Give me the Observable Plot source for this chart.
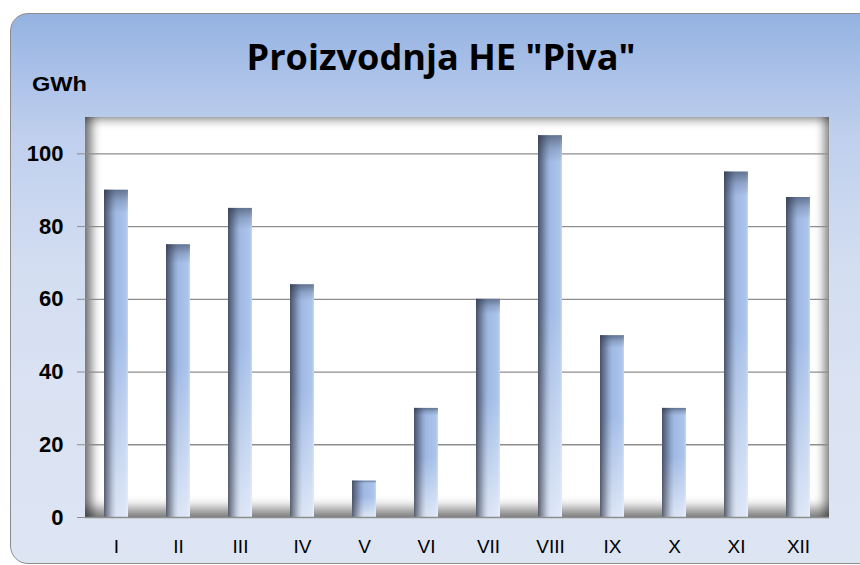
<!DOCTYPE html>
<html>
<head>
<meta charset="utf-8">
<script src="https://cdn.jsdelivr.net/npm/d3@7"></script>
<script src="https://cdn.jsdelivr.net/npm/@observablehq/plot@0.6"></script>
<style>
  body { margin: 0; background: #fff; }
  #wrap { position: relative; width: 860px; height: 565px; overflow: hidden; }
  #box {
    position: absolute; left: 10px; top: 13px; width: 890px; height: 549px;
    border: 1.5px solid #8c8c8c; border-radius: 18px;
    background: linear-gradient(to bottom, #94b2e1 0%, #a9c0e8 10%, #bfcfed 22%, #d2ddf1 45%, #dbe3f3 70%, #dde5f3 100%);
  }
  #plotbg {
    position: absolute; left: 85px; top: 117px; width: 744px; height: 400px; background: #fff;
    box-shadow: inset 13px 0 10px -6px rgba(0,0,0,.5), inset -11px 0 10px -6px rgba(0,0,0,.45),
                inset 0 10px 9px -6px rgba(0,0,0,.35), inset 0 -15px 12px -6px rgba(0,0,0,.48);
  }
  #chart { position: absolute; left: 0; top: 0; }
  #titles { position: absolute; left: 0; top: 0; }
</style>
</head>
<body>
<div id="wrap">
  <div id="box"></div>
  <div id="plotbg"></div>
  <svg id="titles" width="860" height="565">
    <text x="441" y="70" text-anchor="middle" font-family="'Open Sans', sans-serif" font-weight="700" font-size="35" textLength="389" lengthAdjust="spacingAndGlyphs">Proizvodnja HE "Piva"</text>
    <text x="32" y="91" font-family="'Liberation Sans', Arial, sans-serif" font-weight="700" font-size="20" textLength="55" lengthAdjust="spacingAndGlyphs">GWh</text>
  </svg>
  <div id="chart"></div>
</div>
<script>
const months = ["I", "II", "III", "IV", "V", "VI", "VII", "VIII", "IX", "X", "XI", "XII"];
const values = [90, 75, 85, 64, 10, 30, 60, 105, 50, 30, 95, 88];
const yTicks = [0, 20, 40, 60, 80, 100];

const data = months.map((m, i) => ({month: m, value: values[i]}));

const plot = Plot.plot({
  width: 860,
  height: 565,
  marginLeft: 85,
  marginRight: 31,
  marginTop: 117,
  marginBottom: 48,
  style: {background: "transparent", fontFamily: "'Liberation Sans', Arial, sans-serif", overflow: "visible"},
  x: {domain: months, paddingInner: 0.613, paddingOuter: 0.306, label: null},
  y: {domain: [0, 110], ticks: yTicks, label: null},
  marks: [
    Plot.ruleY(yTicks.filter(t => t > 0), {stroke: "#8e8e8e", strokeWidth: 1.3}),
    Plot.barY(data, {x: "month", y: "value", fill: "url(#gBase)"}),
    Plot.barY(data, {x: "month", y: "value", fill: "url(#gFade)"}),
    Plot.barY(data, {x: "month", y: "value", fill: "url(#gLeft)"}),
    Plot.barY(data, {x: "month", y: "value", fill: "url(#gTop)"}),
    Plot.ruleY([0], {stroke: "#8e8e8e", strokeWidth: 1.3}),
    Plot.axisY({ticks: yTicks, tickSize: 8, tickPadding: 14, fontSize: 22, fontWeight: "bold", stroke: "#8e8e8e", fill: "#000", label: null}),
    Plot.axisX({tickSize: 0, tickPadding: 22, fontSize: 19, fill: "#000", label: null})
  ]
});

d3.select(plot).insert("defs", ":first-child").html(`
  <linearGradient id="gBase" x1="0" x2="1" y1="0" y2="0">
    <stop offset="0" stop-color="#8aa2cc"/>
    <stop offset="0.45" stop-color="#9fb8e2"/>
    <stop offset="0.9" stop-color="#abc4ec"/>
    <stop offset="1" stop-color="#c6d6f2"/>
  </linearGradient>
  <linearGradient id="gFade" x1="0" x2="0" y1="0" y2="1">
    <stop offset="0" stop-color="#ffffff" stop-opacity="0"/>
    <stop offset="0.45" stop-color="#ffffff" stop-opacity="0"/>
    <stop offset="1" stop-color="#ffffff" stop-opacity="0.62"/>
  </linearGradient>
  <linearGradient id="gLeft" x1="0" x2="1" y1="0" y2="0">
    <stop offset="0" stop-color="#373e4e" stop-opacity="0.8"/>
    <stop offset="0.12" stop-color="#373e4e" stop-opacity="0.55"/>
    <stop offset="0.35" stop-color="#373e4e" stop-opacity="0.15"/>
    <stop offset="0.5" stop-color="#373e4e" stop-opacity="0"/>
  </linearGradient>
  <linearGradient id="gTop" x1="0" x2="0" y1="0" y2="1">
    <stop offset="0" stop-color="#2d374b" stop-opacity="0.55"/>
    <stop offset="0.035" stop-color="#2d374b" stop-opacity="0.2"/>
    <stop offset="0.07" stop-color="#2d374b" stop-opacity="0"/>
  </linearGradient>
`);

document.getElementById("chart").appendChild(plot);
</script>
</body>
</html>
